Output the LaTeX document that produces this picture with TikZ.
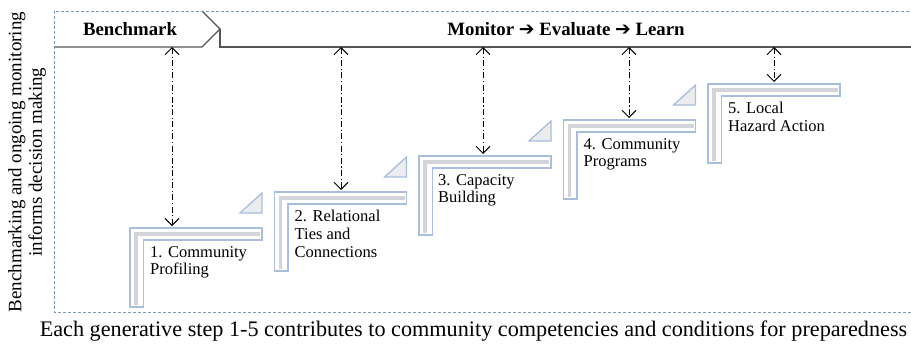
\documentclass[tikz,border=0pt]{standalone}
\usepackage{fontspec}
\setmainfont{Liberation Serif}
\newfontfamily\arrowfont{DejaVu Sans}
\usetikzlibrary{arrows.meta,positioning,calc}
\definecolor{frameBlue}{RGB}{125,150,185}
\definecolor{stepBlue}{RGB}{168,190,222}
\definecolor{stepGray}{RGB}{210,212,218}
\definecolor{bannerGray}{RGB}{85,85,85}

\begin{document}
\begin{tikzpicture}[x=1pt,y=-1pt,
                frame/.style={draw=frameBlue,dash pattern=on 3pt off 2pt,line width=0.8pt},
                banner/.style={draw=bannerGray,line width=1.3pt},
                bannertext/.style={font=\bfseries\fontsize{18.8}{20}\selectfont,inner sep=0pt},
                steptext/.style={font=\fontsize{16.5}{17.8}\selectfont,align=left,anchor=north west,inner sep=0pt},
                link/.style={{Straight Barb[length=7pt,width=14pt]}-{Straight Barb[length=7pt,width=14pt]},
                             line width=0.9pt,dash pattern=on 6pt off 2.5pt on 1.2pt off 2.5pt},
                corner/.pic={
                    \fill[white] (0,0) -- (132,0) -- (132,12) -- (13.5,12) -- (13.5,79) -- (0,79) -- cycle;
                    \draw[stepGray,line width=3.5pt] (6,77) -- (6,6) -- (130,6);
                    \draw[stepBlue,line width=1.3pt] (0,0) -- (132,0) -- (132,12) -- (13.5,12) -- (13.5,79) -- (0,79) -- cycle;
                },
                ramp/.pic={
                    \draw[stepBlue,fill=stepGray!45,line width=1.3pt] (0,0) -- (22,-20) -- (22,0) -- cycle;
                }
            ]
                \useasboundingbox (0,0) rectangle (911,343);

                % banner across the top
                \fill[white] (54,11) -- (202,11) -- (220,29) -- (202,47) -- (54,47) -- cycle;
                \draw[banner] (54,47) -- (202,47) -- (220,29) -- (202,11);
                \draw[banner] (220,29) -- (220,47) -- (912,47);
                \node[bannertext] (bench) at (130,29) {Benchmark};
                \node[bannertext] (mel) at (566,29) {Monitor {\arrowfont\bfseries\char"2794} Evaluate {\arrowfont\bfseries\char"2794} Learn};

                % dashed frame
                \draw[frame] (54,11) rectangle (913,312);

                % steps
                \pic at (130,228) {corner};
                \pic at (240,213) {ramp};
                \pic at (274.5,192) {corner};
                \pic at (384.5,177) {ramp};
                \pic at (419,156) {corner};
                \pic at (529,141) {ramp};
                \pic at (563.5,120) {corner};
                \pic at (673.5,105) {ramp};
                \pic at (708,84) {corner};

                \node[steptext] (s1) at (150,246) {1. Community\\Profiling};
                \node[steptext] (s2) at (294.5,210) {2. Relational\\Ties and\\Connections};
                \node[steptext] (s3) at (438,174) {3. Capacity\\Building};
                \node[steptext] (s4) at (583.5,138) {4. Community\\Programs};
                \node[steptext] (s5) at (728,102) {5. Local\\Hazard Action};

                % links between banner and steps
                \coordinate (b1) at (172,47);   \coordinate (t1) at (172,226);
                \coordinate (b2) at (341,47);   \coordinate (t2) at (341,190);
                \coordinate (b3) at (483,47);   \coordinate (t3) at (483,154);
                \coordinate (b4) at (629,47);   \coordinate (t4) at (629,118);
                \coordinate (b5) at (774,47);   \coordinate (t5) at (774,82);
                \draw[link] (b1) -- (t1);
                \draw[link] (b2) -- (t2);
                \draw[link] (b3) -- (t3);
                \draw[link] (b4) -- (t4);
                \draw[link] (b5) -- (t5);

                % side and bottom captions
                \node[rotate=90,align=center,font=\fontsize{19}{20.5}\selectfont,inner sep=0pt] (side) at (27,162)
                    {Benchmarking and ongoing monitoring\\informs decision making};
                \node[font=\fontsize{22.2}{24}\selectfont,inner sep=0pt] (caption) at (473.5,331)
                    {Each generative step 1-5 contributes to community competencies and conditions for preparedness};
            \end{tikzpicture}
\end{document}
